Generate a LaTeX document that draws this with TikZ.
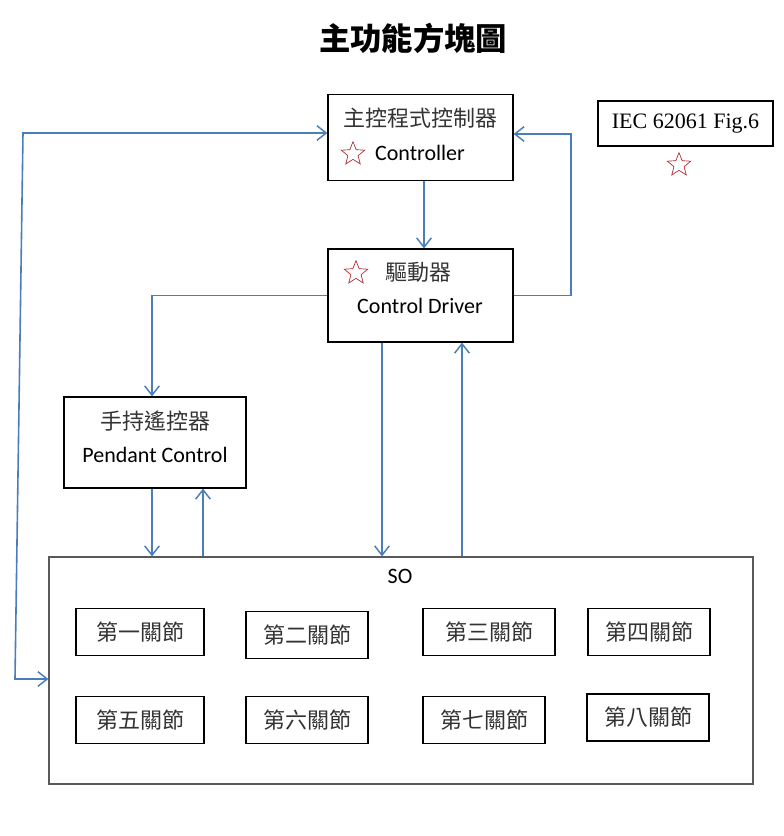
\documentclass[tikz,border=0pt]{standalone}
\usepackage{fontspec}
\setmainfont{Carlito}
\newfontfamily\cjk{Noto Sans CJK TC}
\newfontfamily\timesf{Liberation Serif}
\usetikzlibrary{arrows.meta,shapes.geometric}
\definecolor{linkblue}{RGB}{74,126,187}
\definecolor{starred}{RGB}{175,40,45}
\tikzset{
  box/.style={draw, line width=0.9pt, inner sep=0pt},
  joint/.style={draw, line width=0.9pt, inner sep=0pt, minimum width=91.5pt, minimum height=35.25pt,
    font=\cjk\fontsize{16.5}{18}\selectfont, text=black!80},
  zh/.style={font=\cjk\fontsize{16.5}{18}\selectfont, text=black!80, inner sep=0pt},
  en/.style={font=\fontsize{16.5}{18}\selectfont, inner sep=0pt},
  mark star/.style={star, star points=5, star point ratio=2.3, draw=starred, line width=0.5pt,
    minimum size=18.5pt, inner sep=0pt},
  link/.style={draw=linkblue, line width=1.2pt, -{Straight Barb[length=7pt,width=11pt,line width=1.1pt]}},
  link2/.style={draw=linkblue, line width=1.2pt, {Straight Barb[length=7pt,width=11pt,line width=1.1pt]}-{Straight Barb[length=7pt,width=11pt,line width=1.1pt]}}
}
\begin{document}
\begin{tikzpicture}[x=0.75pt, y=-0.75pt]
\useasboundingbox (0,0) rectangle (783,836);

% title
\node (title) at (413,38) {\cjk\bfseries\fontsize{23.5}{26}\selectfont 主功能方塊圖};

% main boxes
\node[box, minimum width=138.75pt, minimum height=64.5pt] (ctrl) at (420.5,137.5) {};
\node[zh] at (420.5,118) {主控程式控制器};
\node[en] at (420,153) {Controller};
\node[mark star] at (353,154) {};

\node[box, minimum width=138.75pt, minimum height=69.75pt] (drv) at (420.5,295.5) {};
\node[mark star] at (356,273) {};
\node[zh] at (418,272) {驅動器};
\node[en] at (420,306) {Control Driver};

\node[box, minimum width=131.25pt, minimum height=33.75pt] (iec) at (685.5,123.5)
  {\timesf\fontsize{16.5}{18}\selectfont IEC 62061 Fig.6};
\node[mark star] at (679,165) {};

\node[box, minimum width=136.5pt, minimum height=68.25pt] (pend) at (155,442.5) {};
\node[zh] at (155,421) {手持遙控器};
\node[en] at (155,455) {Pendant Control};

% SO and joints
\node[box, draw=black!65, minimum width=528pt, minimum height=170.25pt] (so) at (401,670.5) {};
\node[en] at (400,576) {SO};

\node[joint, minimum width=96pt] (j1) at (140,632) {第一關節};
\node[joint] (j2) at (307,635) {第二關節};
\node[joint, minimum width=99pt] (j3) at (489,632) {第三關節};
\node[joint] (j4) at (649,632) {第四關節};
\node[joint, minimum width=96pt] (j5) at (140,720) {第五關節};
\node[joint] (j6) at (307,720) {第六關節};
\node[joint] (j7) at (484,720) {第七關節};
\node[joint] (j8) at (648,717.5) {第八關節};

% connectors
\coordinate (xcd) at (424,0);
\coordinate (xdd) at (382,0);
\coordinate (xdu) at (462,0);
\coordinate (xpd) at (152,0);
\coordinate (xpu) at (203,0);
\coordinate (rloop) at (571,134);
\coordinate (ltop) at (23,133);
\coordinate (lbot) at (15,679);

\draw[link] (ctrl.south -| xcd) -- (drv.north -| xcd);
\draw[link] (drv.east) -- (drv.east -| rloop) -- (rloop) -- (rloop -| ctrl.east);
\draw[link] (drv.west) -| (pend.north -| xpd);
\draw[link] (drv.south -| xdd) -- (so.north -| xdd);
\draw[link] (so.north -| xdu) -- (drv.south -| xdu);
\draw[link] (pend.south -| xpd) -- (so.north -| xpd);
\draw[link] (so.north -| xpu) -- (pend.south -| xpu);
\draw[link2] (ctrl.west |- ltop) -- (ltop) -- (lbot) -- (lbot -| so.west);
\end{tikzpicture}
\end{document}
